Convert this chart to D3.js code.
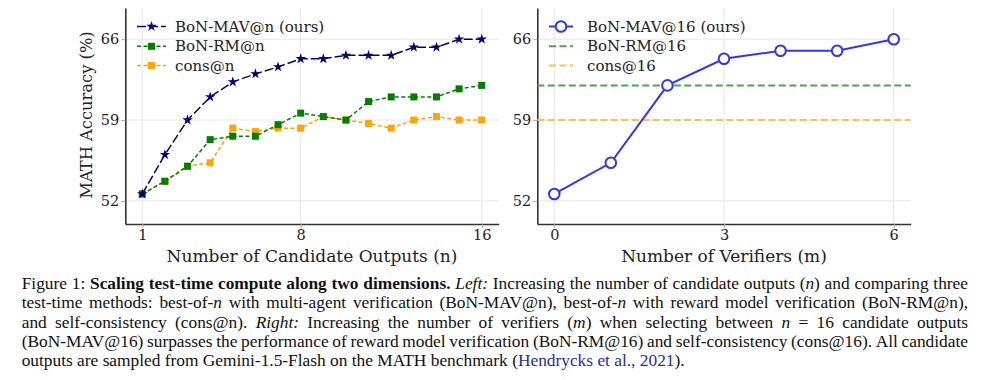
<!DOCTYPE html>
<html><head><meta charset="utf-8">
<script src="https://cdn.jsdelivr.net/npm/d3@7"></script>
<style>body{margin:0;background:#fff}svg{display:block}</style>
</head><body>
<svg id="chart" width="997" height="380"></svg>
<script>
// ---------- data ----------
const nValues = [1,2,3,4,5,6,7,8,9,10,11,12,13,14,15,16];
const mavN  = [52.6,56.0,59.0,61.0,62.3,63.0,63.6,64.3,64.3,64.6,64.6,64.6,65.3,65.3,66.0,66.0];
const rmN   = [52.6,53.7,55.0,57.3,57.6,57.6,58.6,59.6,59.3,59.0,60.6,61.0,61.0,61.0,61.7,62.0];
const consN = [52.6,53.7,55.0,55.3,58.3,58.0,58.3,58.3,59.3,59.0,58.7,58.3,59.0,59.3,59.0,59.0];
const mValues = [0,1,2,3,4,5,6];
const mav16 = [52.6,55.3,62.0,64.3,65.0,65.0,66.0];
const rm16 = 62.0;
const cons16 = 59.0;
const yTicks = [52,59,66];
const xTicksLeft = [1,8,16];
const xTicksRight = [0,3,6];
const legendLeft = ["BoN-MAV@n (ours)","BoN-RM@n","cons@n"];
const legendRight = ["BoN-MAV@16 (ours)","BoN-RM@16","cons@16"];
const yLabel = "MATH Accuracy (%)";
const xLabelLeft = "Number of Candidate Outputs (n)";
const xLabelRight = "Number of Verifiers (m)";

// ---------- styles ----------
const NAVY="#000080", GREEN="#008000", ORANGE="#FFA500", BLUE="#3333ff";
const GREEN_H="rgb(77,166,77)", ORANGE_H="rgb(255,192,77)";
const FONT="'DejaVu Serif', serif";
const svg = d3.select("#chart");

const y = d3.scaleLinear().domain([50,68.7]).range([224,8]);
const xL = d3.scaleLinear().domain([0.25,16.75]).range([125.3,498.7]);
const xR = d3.scaleLinear().domain([-0.3,6.3]).range([537.3,910.7]);

function frame(x, xt, showYLabel, xlab){
  const g = svg.append("g");
  g.selectAll(".gx").data(xt).join("line")
    .attr("x1",d=>x(d)).attr("x2",d=>x(d)).attr("y1",y.range()[1]).attr("y2",y.range()[0])
    .attr("stroke","#e8e8e8").attr("stroke-width",1);
  g.selectAll(".gy").data(yTicks).join("line")
    .attr("x1",x.range()[0]).attr("x2",x.range()[1]).attr("y1",d=>y(d)).attr("y2",d=>y(d))
    .attr("stroke","#e8e8e8").attr("stroke-width",1);
  const ax = g.append("g").attr("transform",`translate(0,${y.range()[0]})`)
    .call(d3.axisBottom(x).tickValues(xt).tickSize(4).tickSizeOuter(0).tickPadding(2).tickFormat(d3.format("d")));
  const ay = g.append("g").attr("transform",`translate(${x.range()[0]},0)`)
    .call(d3.axisLeft(y).tickValues(yTicks).tickSize(4).tickSizeOuter(0).tickPadding(2).tickFormat(d3.format("d")));
  [ax,ay].forEach(a=>{
    a.select(".domain").attr("stroke","#333").attr("stroke-width",1.6);
    a.selectAll(".tick line").attr("stroke","#aaa");
    a.selectAll(".tick text").attr("font-family",FONT).attr("font-size",14.5).attr("fill","#222");
  });
  if(showYLabel){
    svg.append("text").attr("transform","translate(86,115) rotate(-90)")
      .attr("text-anchor","middle").attr("dominant-baseline","central")
      .attr("font-family",FONT).attr("font-size",16.3).attr("fill","#222").text(yLabel);
  }
  svg.append("text").attr("x",(x.range()[0]+x.range()[1])/2).attr("y",261.5)
    .attr("text-anchor","middle").attr("font-family",FONT).attr("font-size",17).attr("fill","#222").text(xlab);
}
frame(xL, xTicksLeft, true, xLabelLeft);
frame(xR, xTicksRight, false, xLabelRight);

// ---------- left series ----------
const lineL = d3.line().x((d,i)=>xL(nValues[i])).y(d=>y(d));
const sq = 7;
function squares(vals,color){
  svg.append("g").selectAll("rect").data(vals).join("rect")
    .attr("x",(d,i)=>xL(nValues[i])-sq/2).attr("y",d=>y(d)-sq/2).attr("width",sq).attr("height",sq)
    .attr("fill",color);
}
svg.append("path").datum(consN).attr("d",lineL).attr("fill","none").attr("stroke",ORANGE)
  .attr("stroke-width",1.5).attr("stroke-dasharray","4,2.5");
squares(consN, ORANGE);
svg.append("path").datum(rmN).attr("d",lineL).attr("fill","none").attr("stroke",GREEN)
  .attr("stroke-width",1.5).attr("stroke-dasharray","4,2.5");
squares(rmN, GREEN);
svg.append("path").datum(mavN).attr("d",lineL).attr("fill","none").attr("stroke",NAVY)
  .attr("stroke-width",1.5).attr("stroke-dasharray","9,3");
const star = d3.symbol().type(d3.symbolStar).size(34);
svg.append("g").selectAll("path").data(mavN).join("path")
  .attr("transform",(d,i)=>`translate(${xL(nValues[i])},${y(d)})`).attr("d",star).attr("fill",NAVY);

// ---------- right series ----------
svg.append("line").attr("x1",xR.range()[0]).attr("x2",xR.range()[1]).attr("y1",y(rm16)).attr("y2",y(rm16))
  .attr("stroke",GREEN_H).attr("stroke-width",2).attr("stroke-dasharray","7,3.5");
svg.append("line").attr("x1",xR.range()[0]).attr("x2",xR.range()[1]).attr("y1",y(cons16)).attr("y2",y(cons16))
  .attr("stroke",ORANGE_H).attr("stroke-width",2).attr("stroke-dasharray","7,3.5");
const lineR = d3.line().x((d,i)=>xR(mValues[i])).y(d=>y(d));
svg.append("path").datum(mav16).attr("d",lineR).attr("fill","none").attr("stroke",BLUE).attr("stroke-width",2);
svg.append("g").selectAll("circle").data(mav16).join("circle")
  .attr("cx",(d,i)=>xR(mValues[i])).attr("cy",d=>y(d)).attr("r",5.3)
  .attr("fill","#fff").attr("stroke",BLUE).attr("stroke-width",2);

// ---------- legends ----------
const legY = [26.5,46.3,65.5];
const lgL = svg.append("g");
[[NAVY,"9,3","star"],[GREEN,"4,2.5","sq"],[ORANGE,"4,2.5","sq"]].forEach((s,i)=>{
  lgL.append("line").attr("x1",137).attr("x2",166).attr("y1",legY[i]).attr("y2",legY[i])
    .attr("stroke",s[0]).attr("stroke-width",1.5).attr("stroke-dasharray",s[1]);
  if(s[2]==="star") lgL.append("path").attr("transform",`translate(151.5,${legY[i]})`).attr("d",star).attr("fill",s[0]);
  else lgL.append("rect").attr("x",151.5-sq/2).attr("y",legY[i]-sq/2).attr("width",sq).attr("height",sq).attr("fill",s[0]);
  lgL.append("text").attr("x",175).attr("y",legY[i]).attr("dominant-baseline","central")
    .attr("font-family",FONT).attr("font-size",15).attr("fill","#222").text(legendLeft[i]);
});
const lgR = svg.append("g");
[[BLUE,null],[GREEN_H,"7,3.5"],[ORANGE_H,"7,3.5"]].forEach((s,i)=>{
  lgR.append("line").attr("x1",549).attr("x2",573).attr("y1",legY[i]).attr("y2",legY[i])
    .attr("stroke",s[0]).attr("stroke-width",2).attr("stroke-dasharray",s[1]);
  if(i===0) lgR.append("circle").attr("cx",561).attr("cy",legY[i]).attr("r",5.3)
    .attr("fill","#fff").attr("stroke",BLUE).attr("stroke-width",2);
  lgR.append("text").attr("x",587).attr("y",legY[i]).attr("dominant-baseline","central")
    .attr("font-family",FONT).attr("font-size",15).attr("fill","#222").text(legendRight[i]);
});

// ---------- caption ----------
const CF = "'Liberation Serif','Times New Roman',serif";
const capSize = 17.35;
const capLeft = 21.7, capRight = 968;
const capBase = [289, 308.3, 327.5, 346.5, 365.5];
const plain = s => s.split(" ").map(w=>[[w,"r"]]);
const caption = [
  [ [["Figure","r"]], [["1:","r"]], ...["Scaling","test-time","compute","along","two","dimensions."].map(w=>[[w,"b"]]),
    [["Left:","i"]], ...plain("Increasing the number of candidate outputs"), [["(","r"],["n","i"],[")","r"]], ...plain("and comparing three") ],
  [ ...plain("test-time methods:"), [["best-of-","r"],["n","i"]], ...plain("with multi-agent verification (BoN-MAV@n),"),
    [["best-of-","r"],["n","i"]], ...plain("with reward model verification (BoN-RM@n),") ],
  [ ...plain("and self-consistency (cons@n)."), [["Right:","i"]], ...plain("Increasing the number of verifiers"),
    [["(","r"],["m","i"],[")","r"]], ...plain("when selecting between"), [["n","i"]], [["=","r"]], ...plain("16 candidate outputs") ],
  [ ...plain("(BoN-MAV@16) surpasses the performance of reward model verification (BoN-RM@16) and self-consistency (cons@16). All candidate") ],
  [ ...plain("outputs are sampled from Gemini-1.5-Flash on the MATH benchmark"), [["(","r"],["Hendrycks","l"]], [["et","l"]], [["al.,","l"]], [["2021","l"],[").","r"]] ]
];
const justify = [true,true,true,true,false];
const capG = svg.append("g");
caption.forEach((line,li)=>{
  const nodes = line.map(word=>{
    const t = capG.append("text").attr("y",capBase[li]).attr("font-family",CF).attr("font-size",capSize).attr("fill","#111");
    word.forEach(([txt,st])=>{
      const ts = t.append("tspan").text(txt);
      if(st==="b") ts.attr("font-weight","bold");
      if(st==="i") ts.attr("font-style","italic");
      if(st==="l") ts.attr("fill","#2a2aa8");
    });
    return t;
  });
  const widths = nodes.map(n=>n.node().getComputedTextLength());
  const total = d3.sum(widths);
  let gap = capSize*0.25;
  if(justify[li] && nodes.length>1) gap = (capRight-capLeft-total)/(nodes.length-1);
  let x = capLeft;
  nodes.forEach((n,i)=>{ n.attr("x",x); x += widths[i] + gap; });
});
</script>
</body></html>
